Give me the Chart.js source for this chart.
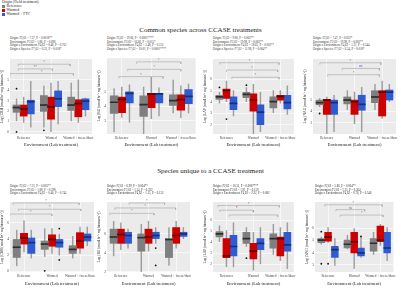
<!DOCTYPE html>
<html>
<head>
<meta charset="utf-8">
<script src="https://cdn.jsdelivr.net/npm/chart.js@4.4.1/dist/chart.umd.min.js"></script>
<style>
  body { margin: 0; background: #fff; width: 401px; height: 290px; position: relative; overflow: hidden;
         font-family: 'Liberation Serif', serif; color: #222; }
  canvas { position: absolute; }
  .txt { position: absolute; white-space: nowrap; }
  .stats { position: absolute; white-space: nowrap; font-size: 3px; line-height: 3.5px; color: #333; }
  .sw { display: inline-block; width: 3px; height: 3px; margin-right: 1.5px; vertical-align: middle; }
</style>
</head>
<body>
<div class="txt" style="left:2px;top:1px;font-size:3.8px;line-height:3.6px;">
  Origin (Field treatment)<br>
  <span class="sw" style="background:#7f7f7f"></span>Reference<br>
  <span class="sw" style="background:#cc0000"></span>Warmed<br>
  <span class="sw" style="background:#2f5bd0"></span>Warmed + FTC
</div>
<div class="txt" style="left:0;width:401px;text-align:center;top:27px;font-size:7px;line-height:7px;">Common species across CCASE treatments</div>
<div class="txt" style="left:20px;width:381px;text-align:center;top:168px;font-size:7px;line-height:7px;">Species unique to a CCASE treatment</div>

<canvas id="c0" width="96" height="93" style="left:0px;top:55px"></canvas>
<canvas id="c1" width="101" height="93" style="left:97px;top:55px"></canvas>
<canvas id="c2" width="95" height="93" style="left:203px;top:55px"></canvas>
<canvas id="c3" width="97" height="93" style="left:303px;top:55px"></canvas>
<canvas id="c4" width="98" height="89" style="left:0px;top:198px"></canvas>
<canvas id="c5" width="97" height="89" style="left:97px;top:198px"></canvas>
<canvas id="c6" width="95" height="89" style="left:203px;top:198px"></canvas>
<canvas id="c7" width="93" height="89" style="left:305px;top:198px"></canvas>

<script>
// lab treatments (x axis) and field origins (series)
const environments = ['Reference', 'Warmed', 'Warmed + freeze/thaw'];
const origins = ['Reference', 'Warmed', 'Warmed + FTC'];

// each origin: one row per environment = [low whisker, Q1, median, Q3, high whisker]
const cbhCommon = [
  [[1.06, 1.88, 2.34, 2.58, 3.18], [0.45, 1.97, 2.58, 3.49, 4.4], [1.06, 2.06, 2.58, 3.34, 4.7]],
  [[0.91, 1.52, 2.2, 2.58, 3.34], [0.0, 1.22, 2.4, 3.34, 4.7], [0.91, 1.45, 2.73, 3.09, 5.0]],
  [[0.45, 1.73, 2.9, 3.04, 4.85], [0.76, 2.43, 3.18, 3.94, 4.85], [1.52, 2.13, 2.95, 3.18, 3.25]]
];
const bgCommon = [
  [[2.22, 3.49, 4.27, 4.71, 5.22], [2.1, 3.29, 4.11, 4.71, 5.33], [3.53, 4.05, 4.38, 4.78, 5.8]],
  [[3.22, 3.55, 4.47, 4.62, 5.33], [3.13, 3.89, 4.83, 4.89, 6.0], [3.2, 3.73, 4.45, 4.78, 5.4]],
  [[2.89, 4.22, 4.89, 5.0, 5.47], [3.33, 4.22, 4.85, 4.89, 5.27], [3.53, 4.18, 4.67, 5.15, 5.53]]
];
const lapCommon = [
  [[3.9, 4.24, 4.46, 4.6, 4.88], [4.04, 4.4, 4.69, 4.88, 5.3], [3.06, 3.48, 4.04, 4.46, 5.03]],
  [[4.04, 4.32, 5.03, 5.16, 5.87], [1.1, 3.2, 4.19, 4.74, 5.58], [3.9, 4.18, 4.52, 4.6, 5.03]],
  [[2.78, 3.34, 3.9, 4.46, 5.03], [1.38, 2.0, 3.12, 3.76, 4.88], [2.92, 3.4, 3.96, 4.6, 5.45]]
];
const nagCommon = [
  [[4.4, 4.56, 4.75, 4.98, 5.1], [4.14, 4.64, 4.98, 5.25, 5.8], [4.14, 4.75, 5.25, 5.8, 6.36]],
  [[1.9, 3.72, 4.98, 5.02, 5.25], [2.9, 3.72, 4.83, 4.98, 5.67], [3.36, 3.58, 5.67, 5.8, 6.64]],
  [[2.2, 3.72, 4.75, 4.98, 5.4], [2.2, 4.08, 4.6, 5.4, 6.1], [4.83, 4.98, 5.67, 5.86, 6.36]]
];
const cbhUnique = [
  [[0.67, 1.71, 2.98, 3.95, 5.1], [1.83, 2.71, 3.37, 3.75, 5.29], [1.64, 2.21, 2.71, 3.17, 4.33]],
  [[2.4, 3.37, 4.13, 4.71, 6.25], [2.2, 3.1, 3.95, 4.52, 5.29], [2.21, 2.86, 3.75, 4.79, 5.48]],
  [[1.64, 2.21, 3.55, 4.13, 5.1], [2.0, 2.98, 3.55, 3.95, 4.6], [3.17, 3.75, 4.25, 4.63, 5.48]]
];
const bgUnique = [
  [[3.67, 5.0, 5.67, 6.5, 7.33], [1.67, 4.17, 5.6, 6.0, 7.0], [2.67, 3.5, 5.4, 5.5, 6.67]],
  [[4.33, 5.0, 5.94, 6.5, 7.17], [4.17, 5.0, 5.67, 6.5, 7.33], [4.5, 5.0, 5.83, 6.67, 7.33]],
  [[4.5, 5.0, 5.83, 6.17, 6.5], [5.0, 5.5, 5.83, 6.17, 6.67], [5.5, 5.73, 6.0, 6.17, 6.67]]
];
const lapUnique = [
  [[4.05, 4.48, 4.76, 4.97, 5.48], [3.62, 3.9, 4.33, 4.9, 5.33], [2.91, 3.48, 4.33, 4.76, 5.62]],
  [[1.77, 2.62, 2.77, 4.33, 5.05], [1.49, 2.49, 3.2, 3.9, 4.9], [2.34, 2.77, 4.33, 4.48, 5.33]],
  [[1.77, 2.77, 3.62, 4.62, 5.76], [2.06, 3.34, 3.9, 4.33, 5.33], [1.63, 3.2, 3.77, 4.9, 5.76]]
];
const nagUnique = [
  [[4.7, 4.82, 5.03, 5.16, 5.29], [4.3, 4.38, 4.69, 5.03, 5.42], [3.86, 4.12, 4.77, 5.16, 5.68]],
  [[4.85, 4.95, 5.29, 5.68, 6.07], [2.69, 3.98, 4.9, 5.68, 5.99], [4.6, 4.9, 5.03, 6.2, 6.33]],
  [[2.95, 3.6, 4.25, 4.51, 5.16], [3.6, 3.73, 3.98, 4.38, 5.29], [3.34, 3.98, 4.38, 5.68, 6.07]]
];

// outliers: [origin index, environment index, value]
const cbhCommonOut = [[0, 0, 4.15], [0, 0, 0.0], [0, 1, 0.15]];
const bgCommonOut = [];
const lapCommonOut = [[0, 0, 5.3], [1, 0, 2.5], [0, 1, 5.5]];
const nagCommonOut = [[0, 0, 3.8]];
const cbhUniqueOut = [[0, 1, 0.05], [2, 1, 5.3], [2, 1, 1.4]];
const bgUniqueOut = [[2, 1, 4.5], [2, 1, 2.67]];
const lapUniqueOut = [[0, 1, 2.57]];
const nagUniqueOut = [[0, 0, 5.73], [0, 0, 3.08], [1, 0, 3.08], [2, 1, 5.34]];

// significance brackets: [from, to, y, label]
const cbhCommonSig = [[-0.2, 1.7, 6.5, '*'], [-0.2, 1.05, 6.05, '**'], [-0.5, 1.82, 5.6, '*']];
const bgCommonSig = [[0.5, 2.0, 7.07, '*'], [0.2, 2.0, 6.55, '*'], [-0.1, 1.4, 6.05, '*']];
const lapCommonSig = [[-0.25, 1.95, 7.49, '*'], [0, 1.9, 6.84, '*'], [0.2, 1.95, 6.2, '*']];
const nagCommonSig = [[-0.25, 1.95, 8.25, '*'], [0.55, 1.9, 7.75, 'ns'], [0.03, 1.9, 7.2, '*']];
const cbhUniqueSig = [[-0.39, 1.97, 8.48, '*'], [-0.2, 2.03, 7.7, '*'], [-0.5, 1.0, 7.1, '*']];
const bgUniqueSig = [[0.3, 1.58, 9.27, '*'], [-0.22, 1.98, 8.74, '*'], [-0.4, 1.2, 8.17, '*']];
const lapUniqueSig = [[-0.32, 1.96, 7.32, '*'], [-0.25, 1.0, 6.9, '*'], [0.1, 1.9, 6.47, '*']];
const nagUniqueSig = [[-0.13, 2.07, 7.95, '*'], [0.3, 1.4, 7.55, 'ns'], [0.47, 2.1, 7.1, '*']];

// y tick labels
const cbhCommonTicks = [0, 1, 2, 3, 4, 5];
const bgCommonTicks = [3, 4, 5];
const lapCommonTicks = [2, 3, 4, 5, 6];
const nagCommonTicks = [3, 4, 5];
const cbhUniqueTicks = [0, 2, 4, 6];
const bgUniqueTicks = [2, 4, 6];
const lapUniqueTicks = [2, 3, 4, 5, 6];
const nagUniqueTicks = [3, 4, 5, 6];

const statsCommon = [
  ['Origin: F2,62 = 7.37, P = 0.0018**', 'Environment: F2,62 = 1.86, P = 0.096', 'Origin x Environment: F4,62 = 0.46, P = 0.762', 'Origin x Species: F7,62 = 0.32, P = 0.018*'],
  ['Origin: F2,62 = 19.06, P < 0.0001****', 'Environment: F2,62 = 16.66, P = 0.015*', 'Origin x Environment: F4,62 = 2.48, P = 0.152', 'Origin x Species: F7,62 = 10.01, P = 0.0001****'],
  ['Origin: F2,62 = 9.80, P = 0.002**', 'Environment: F2,62 = 19.98, P = 0.002**', 'Origin x Environment: F4,62 = 18.65, P = 0.002**', 'Origin x Species: F7,62 = 11.98, P = 0.004**'],
  ['Origin: F2,62 = 7.47, P = 0.022*', 'Environment: F2,62 = 19.98, P = 0.002**', 'Origin x Environment: F4,62 = 1.21, P = 0.344', 'Origin x Species: F7,62 = 6.34, P = 0.018*']
];
const statsUnique = [
  ['Origin: F2,62 = 7.21, P = 0.003**', 'Environment: F2,62 = 1.88, P = 0.298', 'Origin x Environment: F4,62 = 0.46, P = 0.745'],
  ['Origin: F2,62 = 6.99, P = 0.004**', 'Environment: F2,62 = 1.14, P = 0.322', 'Origin x Environment: F4,62 = 1.15, P = 0.132'],
  ['Origin: F2,62 = 10.31, P = 0.0007***', 'Environment: F2,62 = 1.91, P = 0.159', 'Origin x Environment: F4,62 = 2.22, P = 0.082'],
  ['Origin: F2,62 = 5.86, P = 0.004**', 'Environment: F2,62 = 1.15, P = 0.364', 'Origin x Environment: F4,62 = 0.76, P = 0.546']
];

const fills = ['#7f7f7f', '#cc0000', '#2f5bd0'];
const medianColors = ['#2e2e2e', '#5e0000', '#172e78'];
const slot = 0.26;   // dodge between the three origins, in environment units

const panels = [
  { box: cbhCommon, out: cbhCommonOut, sig: cbhCommonSig, ticks: cbhCommonTicks, min: -0.2, max: 7.0, enz: 'CBH', xh: 14 },
  { box: bgCommon, out: bgCommonOut, sig: bgCommonSig, ticks: bgCommonTicks, min: 2.07, max: 7.33, enz: 'BG', xh: 14 },
  { box: lapCommon, out: lapCommonOut, sig: lapCommonSig, ticks: lapCommonTicks, min: 1.18, max: 7.82, enz: 'LAP', xh: 14 },
  { box: nagCommon, out: nagCommonOut, sig: nagCommonSig, ticks: nagCommonTicks, min: 2.0, max: 8.58, enz: 'NAG', xh: 14, sigColors: ['#777', '#2f5bd0', '#777'] },
  { box: cbhUnique, out: cbhUniqueOut, sig: cbhUniqueSig, ticks: cbhUniqueTicks, min: -0.1, max: 8.6, enz: 'CBH', xh: 15 },
  { box: bgUnique, out: bgUniqueOut, sig: bgUniqueSig, ticks: bgUniqueTicks, min: 1.97, max: 9.37, enz: 'BG', xh: 15 },
  { box: lapUnique, out: lapUniqueOut, sig: lapUniqueSig, ticks: lapUniqueTicks, min: 1.32, max: 7.64, enz: 'LAP', xh: 15, sigColors: ['#777', '#cc0000', '#777'] },
  { box: nagUnique, out: nagUniqueOut, sig: nagUniqueSig, ticks: nagUniqueTicks, min: 2.4, max: 8.18, enz: 'NAG', xh: 15 }
];

// grey ggplot-like panel background
const panelBg = {
  id: 'panelBg',
  beforeDraw(chart) {
    const a = chart.chartArea;
    chart.ctx.save();
    chart.ctx.fillStyle = '#ebebeb';
    chart.ctx.fillRect(a.left, a.top, a.right - a.left, a.bottom - a.top);
    chart.ctx.restore();
  }
};

// labels over the significance brackets
const sigLabels = {
  id: 'sigLabels',
  afterDatasetsDraw(chart, args, opts) {
    const ctx = chart.ctx;
    const x = chart.scales.x, y = chart.scales.y;
    ctx.save();
    ctx.font = '3.6px "Liberation Serif"';
    ctx.textAlign = 'center';
    ctx.textBaseline = 'bottom';
    opts.sig.forEach((s, i) => {
      ctx.fillStyle = (opts.colors && opts.colors[i]) || '#777';
      ctx.fillText(s[3], x.getPixelForValue((s[0] + s[1]) / 2), y.getPixelForValue(s[2]) - 0.2);
    });
    ctx.restore();
  }
};

panels.forEach((p, k) => {
  const datasets = [];
  const half = (p.max - p.min) * 0.007;
  const tick = (p.max - p.min) * 0.025;
  const pos = (s, c) => c + (s - 1) * slot;
  origins.forEach((name, s) => {
    const rows = p.box[s];
    datasets.push({ label: name + ' whisker', order: 3, backgroundColor: '#9d9d9d', barThickness: 0.8,
      data: rows.map((r, c) => ({ x: pos(s, c), y: [r[0], r[4]] })) });
    datasets.push({ label: name, order: 2, backgroundColor: fills[s],
      data: rows.map((r, c) => ({ x: pos(s, c), y: [r[1], r[3]] })) });
    datasets.push({ label: name + ' median', order: 1, backgroundColor: medianColors[s],
      data: rows.map((r, c) => ({ x: pos(s, c), y: [r[2] - half, r[2] + half] })) });
  });
  datasets.push({ type: 'line', label: 'outliers', order: 0, showLine: false,
    data: p.out.map(o => ({ x: pos(o[0], o[1]), y: o[2] })),
    pointRadius: 0.9, pointBackgroundColor: '#111', pointBorderWidth: 0 });
  p.sig.forEach(s => {
    datasets.push({ type: 'line', label: 'bracket', order: 0,
      data: [{ x: s[0], y: s[2] - tick }, { x: s[0], y: s[2] }, { x: s[1], y: s[2] }, { x: s[1], y: s[2] - tick }],
      borderColor: '#a5a5a5', borderWidth: 0.6, pointRadius: 0, tension: 0 });
  });

  new Chart(document.getElementById('c' + k), {
    type: 'bar',
    data: { datasets: datasets },
    plugins: [panelBg, sigLabels],
    options: {
      responsive: false,
      animation: false,
      events: [],
      layout: { padding: { right: 1, top: 0 } },
      datasets: { bar: { grouped: false, categoryPercentage: 1, barPercentage: 1, borderWidth: 0 } },
      plugins: {
        legend: { display: false },
        tooltip: { enabled: false },
        sigLabels: { sig: p.sig, colors: p.sigColors }
      },
      scales: {
        x: {
          type: 'linear', min: -0.5, max: 2.5, offset: false,
          afterBuildTicks: s => { s.ticks = environments.map((e, i) => ({ value: i })); },
          grid: { color: '#ffffff', lineWidth: 0.6, drawTicks: false, offset: false },
          border: { display: false },
          ticks: { color: '#444', padding: 2, font: { size: 3.3, family: 'Liberation Serif' }, maxRotation: 0, autoSkip: false,
                   callback: v => environments[Math.round(v)] },
          title: { display: true, text: 'Environment (Lab treatment)', color: '#222', padding: 0,
                   font: { size: 4.6, family: 'Liberation Serif' } },
          afterFit: s => { s.height = p.xh; }
        },
        y: {
          min: p.min, max: p.max,
          afterBuildTicks: s => { s.ticks = p.ticks.map(v => ({ value: v })); },
          grid: { color: '#ffffff', lineWidth: 0.6, drawTicks: false },
          border: { display: false },
          ticks: { color: '#444', padding: 1, font: { size: 3.5, family: 'Liberation Serif' } },
          title: { display: true, text: 'Log (' + p.enz + ' (nmol hr\u207B\u00B9 mg biomass\u207B\u00B9))', color: '#222',
                   padding: 0, font: { size: 3.6, family: 'Liberation Serif' } },
          afterFit: s => { s.width = 10; }
        }
      }
    }
  });
});

// statistics text above each panel, aligned to the plot area
function addStats(lines, left, top) {
  const d = document.createElement('div');
  d.className = 'stats';
  d.style.left = left + 'px';
  d.style.top = top + 'px';
  d.innerHTML = lines.join('<br>');
  document.body.appendChild(d);
}
[10, 107, 213, 313].forEach((x, i) => addStats(statsCommon[i], x, 37));
[10, 107, 213, 315].forEach((x, i) => addStats(statsUnique[i], x, 185));
</script>
</body>
</html>
